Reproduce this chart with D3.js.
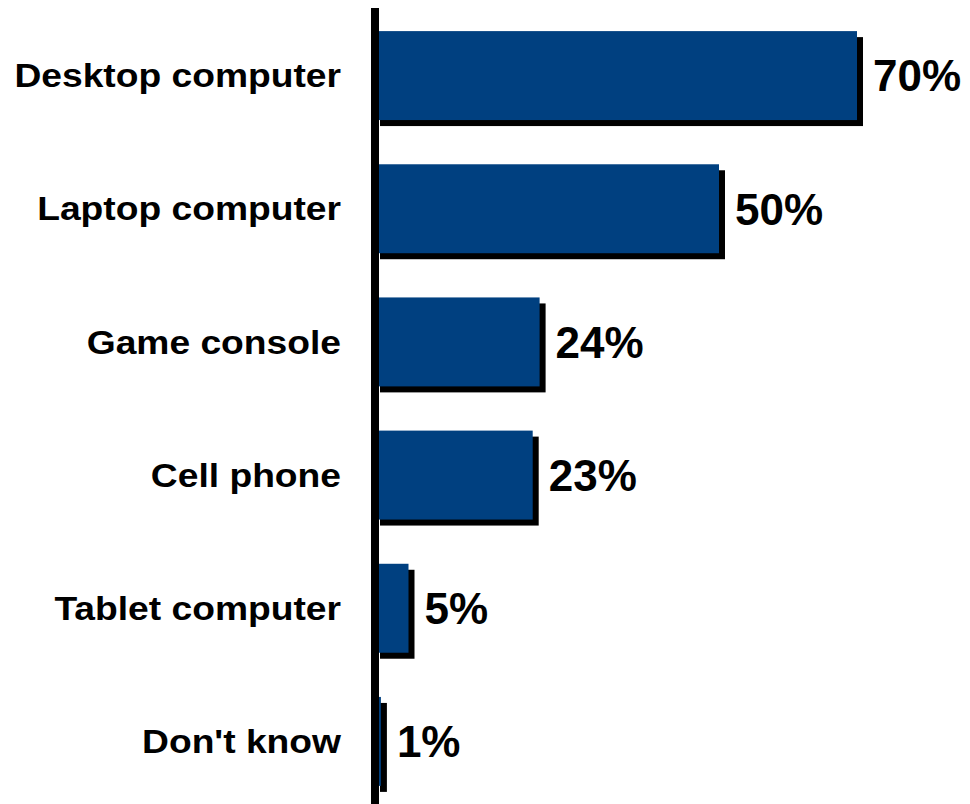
<!DOCTYPE html>
<html>
<head>
<meta charset="utf-8">
<script src="https://cdn.jsdelivr.net/npm/d3@7"></script>
<style>
  html, body { margin: 0; padding: 0; background: #fff; }
  svg { display: block; }
</style>
</head>
<body>
<svg id="chart" width="970" height="804"></svg>
<script>
// Devices used (share of respondents, %)
const categories = ["Desktop computer", "Laptop computer", "Game console", "Cell phone", "Tablet computer", "Don't know"];
const values = [70, 50, 24, 23, 5, 1];
const valueLabels = ["70%", "50%", "24%", "23%", "5%", "1%"];

const svg = d3.select("#chart");
const W = 970, H = 804;

const x = d3.scaleLinear().domain([0, 70]).range([374, 857]);
const y = d3.scaleBand().domain(categories).range([9, 808]).paddingInner(0.332).paddingOuter(0.166);

const data = categories.map((c, i) => ({ c, v: values[i], label: valueLabels[i] }));
const shadow = 6;

// drop shadows
svg.append("g").selectAll("rect").data(data).join("rect")
  .attr("x", d => x(0) + shadow)
  .attr("y", d => y(d.c) + shadow)
  .attr("width", d => x(d.v) - x(0))
  .attr("height", y.bandwidth())
  .attr("fill", "#000");

// bars
svg.append("g").selectAll("rect").data(data).join("rect")
  .attr("x", x(0))
  .attr("y", d => y(d.c))
  .attr("width", d => x(d.v) - x(0))
  .attr("height", y.bandwidth())
  .attr("fill", "#004080");

// category axis line
svg.append("line")
  .attr("x1", 375).attr("x2", 375)
  .attr("y1", 8).attr("y2", H)
  .attr("stroke", "#000").attr("stroke-width", 8);

// category labels (wide bold face)
svg.append("g").selectAll("text").data(data).join("text")
  .attr("transform", d => `translate(341,${y(d.c) + y.bandwidth() / 2}) scale(1.145,1)`)
  .attr("dy", "0.36em")
  .attr("text-anchor", "end")
  .style("font-family", "'Liberation Sans', Arial, sans-serif")
  .style("font-weight", "bold")
  .style("font-size", "32.5px")
  .attr("fill", "#000")
  .text(d => d.c);

// value labels
svg.append("g").selectAll("text").data(data).join("text")
  .attr("x", d => x(d.v) + 16)
  .attr("y", d => y(d.c) + y.bandwidth() / 2)
  .attr("dy", "0.36em")
  .style("font-family", "'Liberation Sans', Arial, sans-serif")
  .style("font-weight", "bold")
  .style("font-size", "44px")
  .attr("fill", "#000")
  .text(d => d.label);
</script>
</body>
</html>
